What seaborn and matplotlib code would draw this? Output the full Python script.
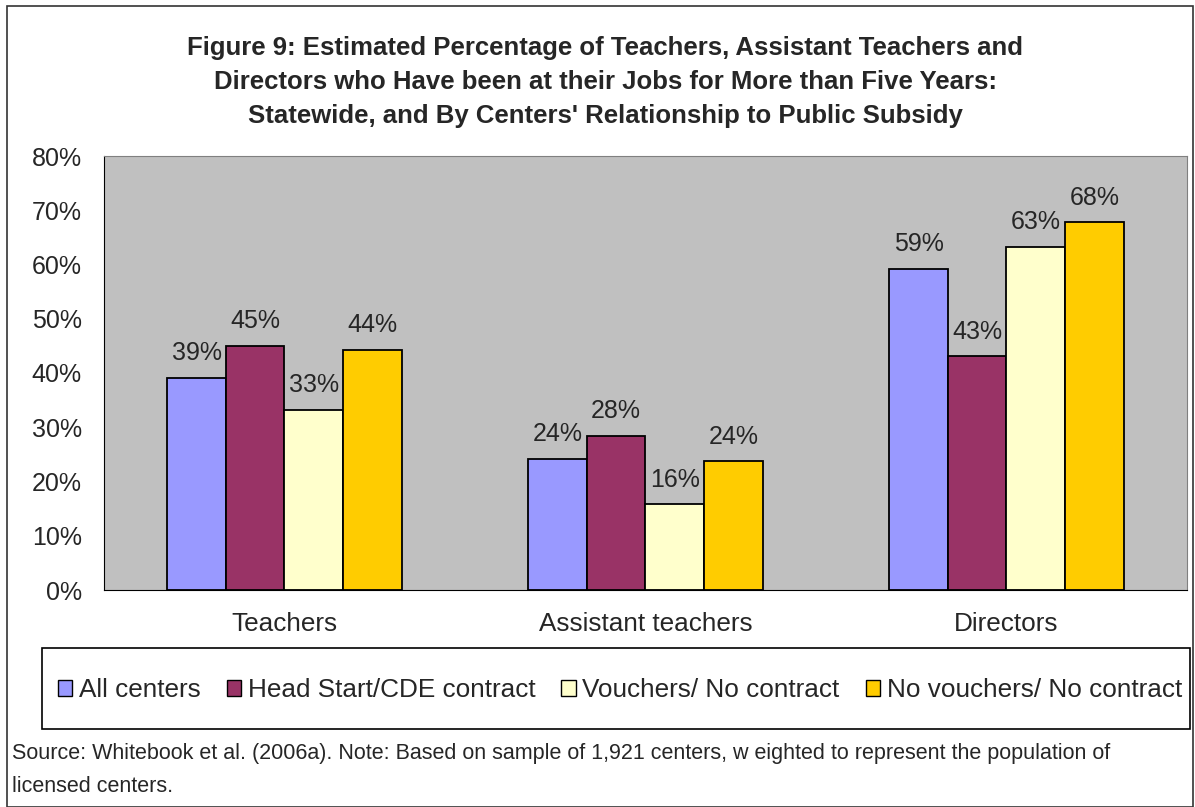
import pandas as pd
import matplotlib
matplotlib.use("Agg")
import matplotlib.pyplot as plt
import seaborn as sns
from matplotlib.patches import Rectangle
from matplotlib.ticker import FixedLocator, PercentFormatter

groups = ["Teachers", "Assistant teachers", "Directors"]
series = ["All centers", "Head Start/CDE contract", "Vouchers/ No contract", "No vouchers/ No contract"]
all_centers = [39.1, 24.2, 59.2]
head_start = [45.0, 28.4, 43.1]
vouchers = [33.2, 15.8, 63.3]
no_vouchers = [44.3, 23.7, 67.8]
colors = ["#9999FF", "#993366", "#FFFFCC", "#FFCC00"]

title = ("Figure 9: Estimated Percentage of Teachers, Assistant Teachers and\n"
         "Directors who Have been at their Jobs for More than Five Years:\n"
         "Statewide, and By Centers' Relationship to Public Subsidy")
note = ("Source: Whitebook et al. (2006a). Note: Based on sample of 1,921 centers, w eighted to represent the population of\n"
        "licensed centers.")

rows = []
for name, vals in zip(series, [all_centers, head_start, vouchers, no_vouchers]):
    for g, v in zip(groups, vals):
        rows.append({"group": g, "series": name, "value": v})
df = pd.DataFrame(rows)

sns.set_style("white")
plt.rcParams["font.family"] = ["Liberation Sans", "DejaVu Sans"]

fig = plt.figure(figsize=(11.95, 8.07), dpi=100)
ax = fig.add_axes([104 / 1195, 1 - 590 / 807, 1083 / 1195, 434 / 807])
ax.set_facecolor("#C0C0C0")

sns.barplot(data=df, x="group", y="value", hue="series", order=groups, hue_order=series,
            palette=colors, saturation=1, width=0.65, gap=0, edgecolor="black",
            linewidth=1.3, legend=False, ax=ax)

for cont in ax.containers:
    ax.bar_label(cont, labels=[f"{b.get_height():.0f}%" for b in cont], padding=9, fontsize=18)

ax.set_ylim(0, 80)
ax.set_xlim(-0.5, 2.5)
ax.yaxis.set_major_locator(FixedLocator(range(0, 81, 10)))
ax.yaxis.set_major_formatter(PercentFormatter(decimals=0))
ax.tick_params(axis="y", direction="out", length=6, width=1, labelsize=18, color="black", pad=10)
ax.set_xticks([0, 1, 2])
ax.set_xticklabels(groups, fontsize=18.8)
ax.tick_params(axis="x", length=0, pad=16)
ax.set_xticks([-0.5, 0.5, 1.5, 2.5], minor=True)
ax.tick_params(axis="x", which="minor", direction="out", length=6, color="black")
ax.set_xlabel("")
ax.set_ylabel("")
for side in ["top", "right"]:
    ax.spines[side].set_color("#808080")
for side in ["left", "bottom"]:
    ax.spines[side].set_color("black")
    ax.spines[side].set_visible(True)

fig.text(605 / 1195, 1 - 82 / 807, title, ha="center", va="center", fontsize=18.5,
         fontweight="bold", linespacing=1.5)

# legend box
fig.patches.append(Rectangle((42 / 1195, 1 - 729 / 807), 1148 / 1195, 81 / 807,
                             transform=fig.transFigure, facecolor="white",
                             edgecolor="black", linewidth=1.2))
handles = [Rectangle((0, 0), 1, 1, facecolor=c, edgecolor="black", linewidth=1) for c in colors]
fig.legend(handles, series, loc="center", bbox_to_anchor=(620 / 1195, 1 - 690 / 807),
           ncol=4, frameon=False, fontsize=18.8, handlelength=0.55, handleheight=0.55,
           handletextpad=0.25, columnspacing=1.0)

fig.text(12 / 1195, 1 - 770 / 807, note, ha="left", va="center", fontsize=15.5, linespacing=1.7)

# outer border
fig.patches.append(Rectangle((7 / 1195, 0), 1186 / 1195, 1 - 6 / 807,
                             transform=fig.transFigure, facecolor="none",
                             edgecolor="#333333", linewidth=1.2))

fig.savefig("out.png", dpi=100)
